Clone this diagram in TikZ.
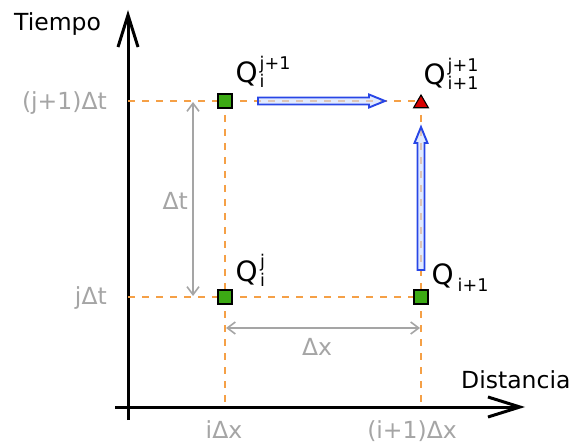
\documentclass[tikz,border=0pt]{standalone}
\usepackage{fontspec}
\setmainfont{DejaVu Sans}
\usetikzlibrary{arrows.meta,shapes.geometric}
\definecolor{gridorange}{RGB}{245,160,70}
\definecolor{dimgray}{RGB}{165,165,165}
\definecolor{ptgreen}{RGB}{60,170,20}
\definecolor{ptred}{RGB}{215,0,0}
\definecolor{arrblue}{RGB}{40,70,230}
\definecolor{arrfill}{RGB}{205,220,255}
\newcommand\qlbl[4]{{\fontsize{28}{28}\selectfont Q}\kern#4\makebox[0pt][l]{\raisebox{#3}{\fontsize{17.5}{17.5}\selectfont #1}}\raisebox{-5pt}{\fontsize{17.5}{17.5}\selectfont #2}}
\tikzset{
  axisline/.style={line width=3pt,-{Straight Barb[length=32pt,width=20pt]}},
  gridline/.style={gridorange,line width=1.9pt,dash pattern=on 7pt off 7pt},
  dimline/.style={dimgray,line width=1.6pt,{Straight Barb[length=8pt,width=12pt]}-{Straight Barb[length=8pt,width=12pt]}},
  gsq/.style={rectangle,draw=black,line width=1.1pt,fill=ptgreen,minimum size=14pt,inner sep=0pt},
  rtri/.style={regular polygon,regular polygon sides=3,draw=black,line width=1.1pt,fill=ptred,minimum size=17pt,inner sep=0pt},
  barrow/.style={draw=arrblue,line width=1.9pt,fill=arrfill,fill opacity=0.6,line join=miter},
  lbl/.style={inner sep=0pt,font=\fontsize{23.5}{23.5}\selectfont},
  glbl/.style={lbl,text=dimgray},
  qlabel/.style={inner sep=0pt,anchor=base west}
}
\begin{document}
\begin{tikzpicture}[x=1pt,y=-1pt]
\useasboundingbox (0,0) rectangle (575,443);
% coordinates
\coordinate (vb) at (128,420);
\coordinate (vt) at (128,10);
\coordinate (hl) at (115,407);
\coordinate (hr) at (525,407);
\coordinate (yj1) at (128,101);
\coordinate (yj) at (128,297);
\coordinate (xi) at (225,404);
\coordinate (xi1) at (421,404);
\coordinate (pC) at (225,101);
\coordinate (pD) at (421,101);
\coordinate (pA) at (225,297);
\coordinate (pB) at (421,297);
% axes
\draw[axisline] (vb) -- (vt);
\draw[axisline] (hl) -- (hr);
% grid lines
\draw[gridline] (yj1) -- (pD);
\draw[gridline] (yj) -- (pB);
\draw[gridline] (pC) -- (xi);
\draw[gridline] (pD) -- (xi1);
% dimension lines
\coordinate (dt1) at (193,102);
\coordinate (dt0) at (193,296);
\coordinate (dx0) at (226,328);
\coordinate (dx1) at (420,328);
\draw[dimline] (dt1) -- (dt0);
\draw[dimline] (dx0) -- (dx1);
% blue arrows
\coordinate (h1) at (258,101);
\coordinate (h2) at (385,101);
\coordinate (v1) at (421,270);
\coordinate (v2) at (421,127);
\draw[barrow] ([shift={(0,-3.5)}]h1) -- ([shift={(-16,-3.5)}]h2) -- ([shift={(-16,-6.5)}]h2) -- (h2) -- ([shift={(-16,6.5)}]h2) -- ([shift={(-16,3.5)}]h2) -- ([shift={(0,3.5)}]h1) -- cycle;
\draw[barrow] ([shift={(-3.5,0)}]v1) -- ([shift={(-3.5,16)}]v2) -- ([shift={(-6.5,16)}]v2) -- (v2) -- ([shift={(6.5,16)}]v2) -- ([shift={(3.5,16)}]v2) -- ([shift={(3.5,0)}]v1) -- cycle;
% points
\node[gsq] (A) at (pA) {};
\node[gsq] (B) at (pB) {};
\node[gsq] (C) at (pC) {};
\node[rtri] (D) at (421,103.5) {};
% Q labels
\node[qlabel] (qC) at (235.5,83) {\qlbl{j+1}{i}{13pt}{2pt}};
\node[qlabel] (qD) at (423.5,85) {\qlbl{j+1}{i+1}{13pt}{2pt}};
\node[qlabel] (qA) at (235.5,282) {\qlbl{j}{i}{14pt}{2.5pt}};
\node[qlabel] (qB) at (431.5,285) {{\fontsize{28}{28}\selectfont Q}\kern4pt\raisebox{-7pt}{\fontsize{17.5}{17.5}\selectfont i+1}};
% axis labels
\node[lbl,anchor=base west] (tiempo) at (14,31) {Tiempo};
\node[lbl,anchor=base west] (dist) at (461,388) {Distancia};
\node[glbl,anchor=base east] (lj1) at (107,110) {(j+1)Δt};
\node[glbl,anchor=base east] (lj) at (107,305) {jΔt};
\node[glbl,anchor=base east] (ldt) at (188,210) {Δt};
\node[glbl,anchor=base] (ldx) at (317,355) {Δx};
\node[glbl,anchor=base] (li) at (224,438) {iΔx};
\node[glbl,anchor=base] (li1) at (412,438) {(i+1)Δx};
\end{tikzpicture}
\end{document}
